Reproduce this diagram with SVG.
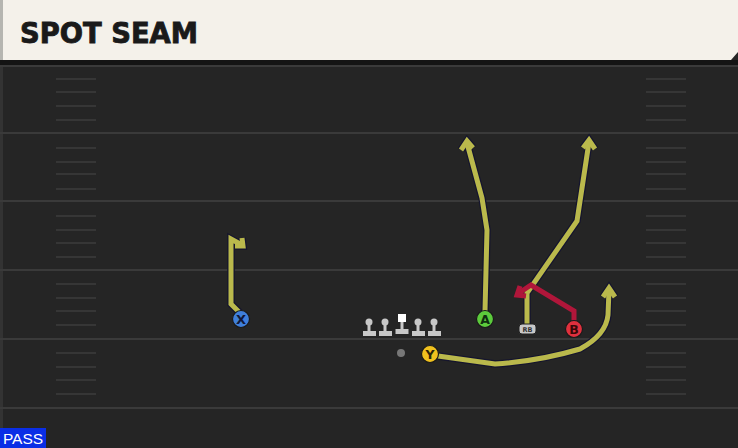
<svg xmlns="http://www.w3.org/2000/svg" width="738" height="448" viewBox="0 0 738 448">
<style>
.yl{fill:none;stroke:#bab94c;stroke-width:5;stroke-linejoin:miter;stroke-linecap:butt}
.ol{fill:none;stroke:#15152e;stroke-width:7.5;stroke-linejoin:miter}
.rd{fill:none;stroke:#b0163a;stroke-width:5;stroke-linejoin:miter}
.fl{stroke:#3a3a3a;stroke-width:2}
.hm{stroke:#363636;stroke-width:2}
.lbl{font-family:"DejaVu Sans",sans-serif;font-weight:bold;text-anchor:middle}
.ol2{stroke:#1a1a1a;stroke-width:1.2}
.lm{fill:#c8c8c8}
</style>
<rect width="738" height="448" fill="#252525"/>
<rect x="0" y="60" width="3" height="388" fill="#333"/>
<g id="field">
<line class="fl" x1="0" y1="66" x2="738" y2="66"/>
<line class="fl" x1="0" y1="133" x2="738" y2="133"/>
<line class="fl" x1="0" y1="201" x2="738" y2="201"/>
<line class="fl" x1="0" y1="270" x2="738" y2="270"/>
<line class="fl" x1="0" y1="339" x2="738" y2="339"/>
<line class="fl" x1="0" y1="408" x2="738" y2="408"/>
<path class="hm" d="M56,79H96M56,92H96M56,106H96M56,120H96M56,148H96M56,162H96M56,174H96M56,189H96M56,216H96M56,230H96M56,243H96M56,257H96M56,284H96M56,298H96M56,311H96M56,325H96M56,353H96M56,367H96M56,380H96M56,394H96"/>
<path class="hm" d="M646,79H686M646,92H686M646,106H686M646,120H686M646,148H686M646,162H686M646,174H686M646,189H686M646,216H686M646,230H686M646,243H686M646,257H686M646,284H686M646,298H686M646,311H686M646,325H686M646,353H686M646,367H686M646,380H686M646,394H686"/>
</g>
<g id="header">
<rect x="0" y="60" width="738" height="5" fill="#141414"/>
<polygon points="0,0 738,0 738,52 731,60 0,60" fill="#f4f1ea"/>
<rect x="0" y="0" width="3" height="60" fill="#b5b5b0"/>
<text x="20" y="43" font-family="'DejaVu Sans Condensed','DejaVu Sans',sans-serif" font-stretch="condensed" font-weight="bold" font-size="29" textLength="178" lengthAdjust="spacingAndGlyphs" fill="#1a1a1a" stroke="#1a1a1a" stroke-width="0.8">SPOT SEAM</text>
</g>
<g id="connectors">
<g id="route-x">
<path class="ol" d="M241,314 L231,304 L231,239 L242,245"/>
<path class="ol" d="M235,246 L243,246 L242,238"/>
<path class="yl" d="M241,314 L231,304 L231,239 L242,245"/>
<path class="yl" d="M235,246 L243,246 L242,238"/>
</g>
<g id="route-a">
<path class="ol" d="M485,311 L487,230 L482,198 L467,143"/>
<path class="ol" d="M461,150 L467,141 L473,148"/>
<path class="yl" d="M485,311 L487,230 L482,198 L467,143"/>
<path class="yl" d="M461,150 L467,141 L473,148"/>
</g>
<g id="route-rb">
<path class="ol" d="M527,324 L527,293 L577,221 L589,142"/>
<path class="ol" d="M583,148 L589,140 L595,149"/>
<path class="yl" d="M527,324 L527,293 L577,221 L589,142"/>
<path class="yl" d="M583,148 L589,140 L595,149"/>
</g>
<g id="route-y">
<path class="ol" d="M438,356 L495,364 Q540,361 580,349 Q606,335 608,315 L609,290"/>
<path class="ol" d="M603,297 L609,288 L615,297"/>
<path class="yl" d="M438,356 L495,364 Q540,361 580,349 Q606,335 608,315 L609,290"/>
<path class="yl" d="M603,297 L609,288 L615,297"/>
</g>
<g id="route-b">
<path class="rd" d="M574,320 L574,311 L531,285 L519,293"/>
<path class="rd" d="M520,286 L517,295 L526,296"/>
</g>
</g>
<g id="line">
<g id="lt1"><circle class="lm" cx="369" cy="322" r="3.5"/><rect class="lm" x="367.5" y="322" width="3" height="10"/><rect class="lm" x="363" y="331" width="13" height="5"/></g>
<g id="lt2"><circle class="lm" cx="385" cy="322" r="3.5"/><rect class="lm" x="383.5" y="322" width="3" height="10"/><rect class="lm" x="379" y="331" width="13" height="5"/></g>
<g id="c"><rect x="398" y="314" width="8" height="8" fill="#fff"/><rect class="lm" x="400.5" y="322" width="3" height="8"/><rect class="lm" x="395.5" y="329" width="13" height="5"/></g>
<g id="rt1"><circle class="lm" cx="418" cy="322" r="3.5"/><rect class="lm" x="416.5" y="322" width="3" height="10"/><rect class="lm" x="412" y="331" width="13" height="5"/></g>
<g id="rt2"><circle class="lm" cx="434" cy="322" r="3.5"/><rect class="lm" x="432.5" y="322" width="3" height="10"/><rect class="lm" x="428" y="331" width="13" height="5"/></g>
<circle id="ball" cx="401" cy="353" r="4" fill="#777"/>
</g>
<g id="node-x"><circle class="ol2" cx="241" cy="319" r="8.5" fill="#3f7fdb"/><text class="lbl" x="241" y="324" font-size="13" fill="#10183a">X</text></g>
<g id="node-a"><circle class="ol2" cx="485" cy="319" r="8.5" fill="#5ccb3c"/><text class="lbl" x="485" y="324" font-size="12.5" fill="#103010">A</text></g>
<g id="node-rb"><rect x="519" y="324" width="17" height="10" rx="3" fill="#c8c8c8" stroke="#222" stroke-width="1"/><text class="lbl" x="527.5" y="331.5" font-size="6.5" fill="#333">RB</text></g>
<g id="node-b"><circle class="ol2" cx="574" cy="329" r="8.5" fill="#e0303e"/><text class="lbl" x="574" y="334" font-size="12.5" fill="#3a0808">B</text></g>
<g id="node-y"><circle class="ol2" cx="430" cy="354" r="8.5" fill="#f0c11e"/><text class="lbl" x="430" y="359" font-size="12.5" fill="#2a2208">Y</text></g>
<g id="pass"><rect x="0" y="428" width="46" height="20" fill="#0a2ee6"/><text x="23" y="444" font-family="'Liberation Sans',sans-serif" font-size="15.5" text-anchor="middle" fill="#fff">PASS</text></g>
</svg>
